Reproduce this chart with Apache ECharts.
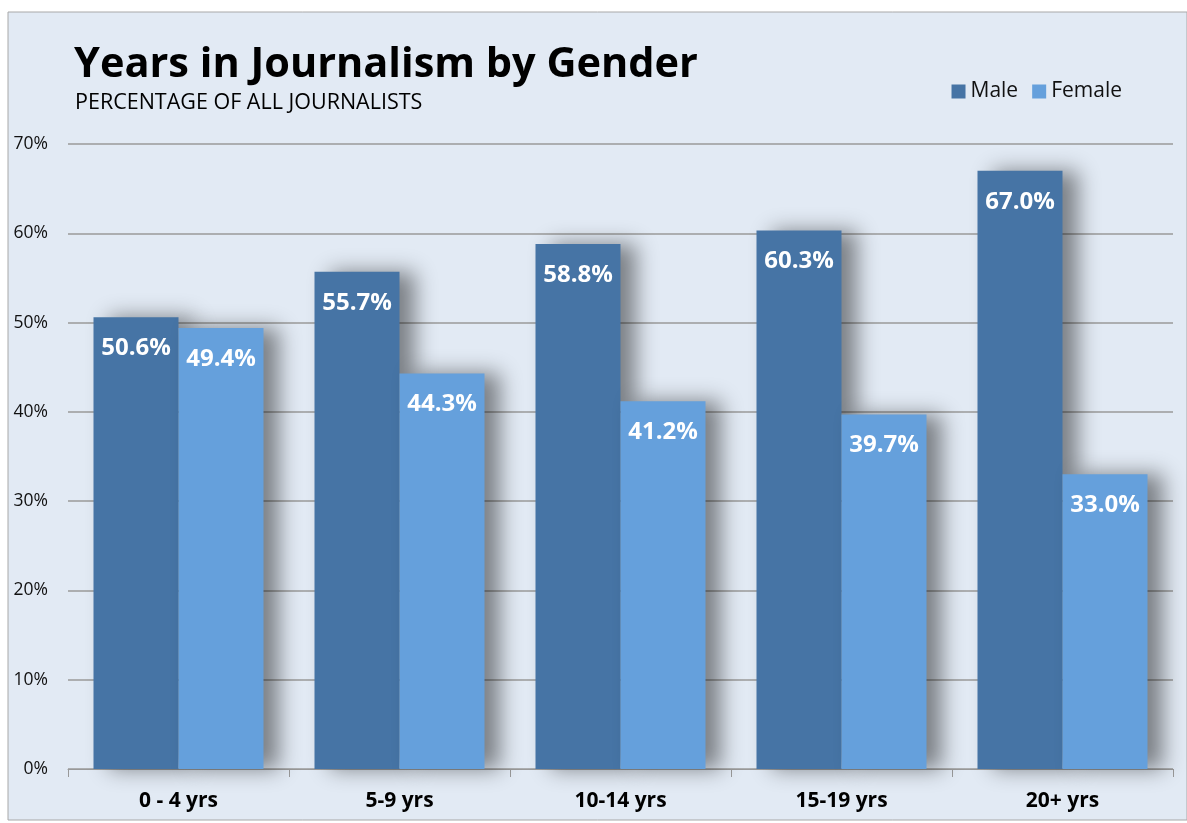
<!DOCTYPE html>
<html><head><meta charset="utf-8">
<script src="https://cdn.jsdelivr.net/npm/echarts@6/dist/echarts.min.js"></script>
<style>html,body{margin:0;padding:0;background:#fff}#c{width:1187px;height:823px}</style>
</head><body><div id="c"></div>
<script>
const categories = ['0 - 4 yrs', '5-9 yrs', '10-14 yrs', '15-19 yrs', '20+ yrs'];
const maleValues = [50.6, 55.7, 58.8, 60.3, 67.0];
const femaleValues = [49.4, 44.3, 41.2, 39.7, 33.0];
const yTicks = [0, 10, 20, 30, 40, 50, 60, 70];

const FONT = '"Open Sans", "Noto Sans", sans-serif';
const chart = echarts.init(document.getElementById('c'));
const labelCfg = {
  show: true, position: 'insideTop', distance: 19,
  color: '#fff', fontFamily: FONT, fontWeight: 'bold', fontSize: 24,
  formatter: p => p.value.toFixed(1) + '%'
};
const shadow = {shadowColor: 'rgba(0,0,0,0.45)', shadowBlur: 20, shadowOffsetX: 15, shadowOffsetY: 0};
chart.setOption({
  animation: false,
  graphic: [
    {type: 'rect', z: -10, shape: {x: 8, y: 12, width: 1179, height: 808}, style: {fill: '#e2eaf4', stroke: '#a8a8a8', lineWidth: 1}},
    {type: 'text', left: 74, top: 44, style: {text: 'Years in Journalism by Gender', font: 'bold 41.5px ' + FONT, fill: '#000'}},
    {type: 'text', left: 75, top: 92, style: {text: 'PERCENTAGE OF ALL JOURNALISTS', font: '21.5px ' + FONT, fill: '#000'}}
  ],
  legend: {
    right: 60, top: 76, itemWidth: 14, itemHeight: 14, itemGap: 14,
    icon: 'rect',
    textStyle: {fontFamily: FONT, fontSize: 21, color: '#111'},
    data: ['Male', 'Female']
  },
  grid: {left: 68, right: 14, top: 144, bottom: 54, containLabel: false},
  xAxis: {
    type: 'category', data: categories,
    axisLine: {lineStyle: {color: '#999'}},
    axisTick: {show: true, length: 8, lineStyle: {color: '#999'}},
    axisLabel: {fontFamily: FONT, fontWeight: 'bold', fontSize: 21, color: '#000', margin: 22}
  },
  yAxis: {
    type: 'value', min: 0, max: 70, interval: 10,
    axisLabel: {formatter: v => v + '%', fontFamily: FONT, fontSize: 17.5, color: '#111', margin: 20},
    splitLine: {lineStyle: {color: '#9a9a9a', width: 1.5}},
    axisLine: {show: false}, axisTick: {show: false}
  },
  series: [
    {name: 'Male', type: 'bar', data: maleValues, barWidth: 85, barGap: '0%',
     itemStyle: Object.assign({color: '#4674a5'}, shadow), label: labelCfg},
    {name: 'Female', type: 'bar', data: femaleValues, barWidth: 85, barGap: '0%',
     itemStyle: Object.assign({color: '#65a0dc'}, shadow), label: labelCfg}
  ]
});
</script></body></html>
